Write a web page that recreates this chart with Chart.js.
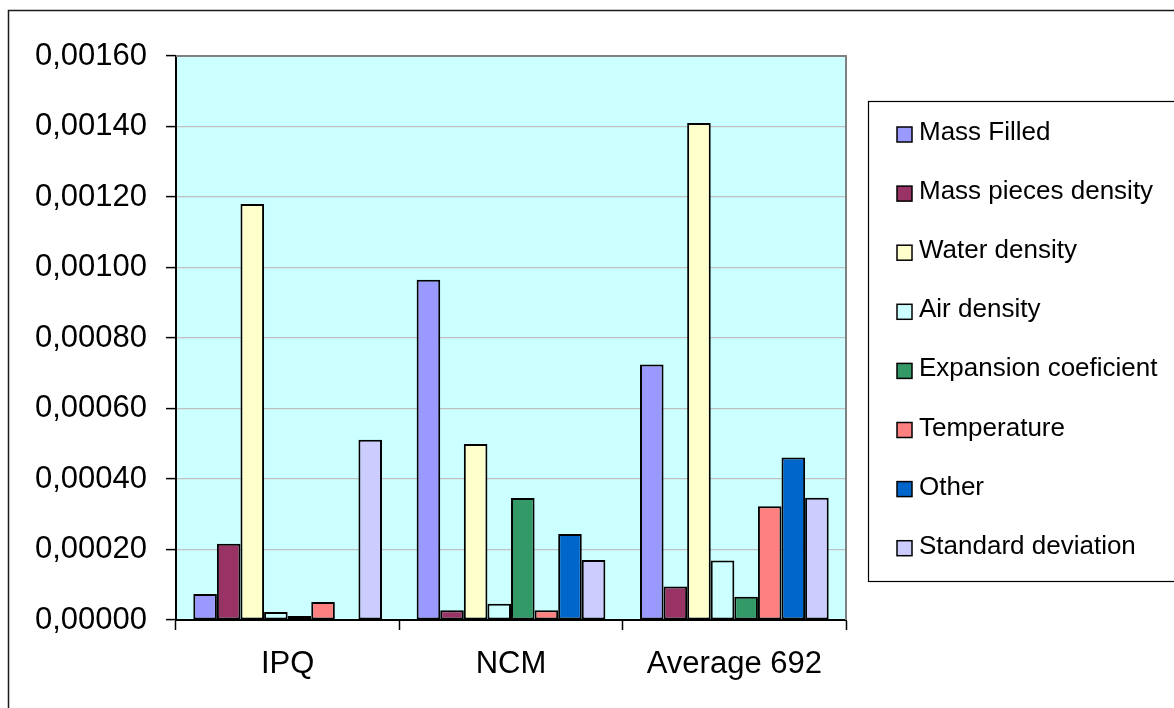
<!DOCTYPE html>
<html>
<head>
<meta charset="utf-8">
<script src="https://cdn.jsdelivr.net/npm/chart.js@4/dist/chart.umd.min.js"></script>
<style>
  html, body { margin: 0; padding: 0; background: #ffffff; }
  #wrap { width: 1174px; height: 708px; }
</style>
</head>
<body>
<div id="wrap"><canvas id="c" width="1174" height="708"></canvas></div>
<script>
// Groups along the x axis
const categories = ['IPQ', 'NCM', 'Average 692'];

// Uncertainty contributions per source, one value per group (IPQ, NCM, Average 692)
const massFilled        = [0.000074, 0.000965, 0.000725];
const massPiecesDensity = [0.000216, 0.000028, 0.000095];
const waterDensity      = [0.00118,  0.000499, 0.00141];
const airDensity        = [0.000023, 0.000046, 0.000169];
const expansionCoef     = [0.000011, 0.000346, 0.000066];
const temperature       = [0.000051, 0.000028, 0.000323];
const other             = [null,     0.000244, 0.000461];
const standardDeviation = [0.000511, 0.00017,  0.000347];

// Value axis
const yMin = 0, yMax = 0.0016, yStep = 0.0002;

const seriesNames = ['Mass Filled', 'Mass pieces density', 'Water density', 'Air density',
                     'Expansion coeficient', 'Temperature', 'Other', 'Standard deviation'];
const seriesValues = [massFilled, massPiecesDensity, waterDensity, airDensity,
                      expansionCoef, temperature, other, standardDeviation];
const seriesColors = ['#9999FF', '#993366', '#FFFFCC', '#CCFFFF',
                      '#339966', '#FF8080', '#0066CC', '#CCCCFF'];

const FONT = '"Liberation Sans", Arial, sans-serif';

const datasets = seriesNames.map((name, i) => ({
  label: name,
  data: seriesValues[i],
  backgroundColor: seriesColors[i],
  borderColor: '#000000',
  borderWidth: 2,
  borderSkipped: false,
  categoryPercentage: 0.845,
  barPercentage: 1.0
}));

// Plot background, frame, outer border and the boxed legend
const framePlugin = {
  id: 'frame',
  beforeDraw(chart) {
    const { ctx, chartArea: a } = chart;
    ctx.save();
    ctx.fillStyle = '#ffffff';
    ctx.fillRect(0, 0, chart.width, chart.height);
    ctx.fillStyle = '#CCFFFF';
    ctx.fillRect(a.left, a.top, a.right - a.left, a.bottom - a.top);
    ctx.restore();
  },
  afterDraw(chart) {
    const { ctx, chartArea: a } = chart;
    ctx.save();
    // top and right edges of the plot area
    ctx.strokeStyle = '#808080';
    ctx.lineWidth = 2;
    ctx.beginPath();
    ctx.moveTo(a.left, a.top);
    ctx.lineTo(a.right, a.top);
    ctx.lineTo(a.right, a.bottom);
    ctx.stroke();

    // outer chart border
    ctx.strokeStyle = '#1a1a1a';
    ctx.lineWidth = 1.5;
    ctx.strokeRect(8.5, 10.5, 1200, 800);

    // legend box
    ctx.strokeStyle = '#000000';
    ctx.lineWidth = 1.2;
    ctx.strokeRect(868.5, 101.5, 340, 480);

    // legend entries
    ctx.font = '26px ' + FONT;
    ctx.textBaseline = 'alphabetic';
    ctx.textAlign = 'left';
    chart.data.datasets.forEach((ds, i) => {
      const cy = 134.5 + i * 59.1;
      ctx.fillStyle = ds.backgroundColor;
      ctx.fillRect(897, cy - 7.5, 15, 15);
      ctx.strokeStyle = '#000000';
      ctx.lineWidth = 1.5;
      ctx.strokeRect(897, cy - 7.5, 15, 15);
      ctx.fillStyle = '#000000';
      ctx.fillText(ds.label, 919, cy + 5.5);
    });
    ctx.restore();
  }
};

new Chart(document.getElementById('c'), {
  type: 'bar',
  data: { labels: categories, datasets },
  plugins: [framePlugin],
  options: {
    responsive: false,
    animation: false,
    devicePixelRatio: 1,
    layout: { padding: { left: 0, top: 56, right: 328, bottom: 0 } },
    plugins: { legend: { display: false }, tooltip: { enabled: false } },
    scales: {
      x: {
        offset: true,
        grid: {
          offset: true,
          drawOnChartArea: false,
          drawTicks: true,
          tickLength: 10,
          tickColor: '#000000',
          tickWidth: 1.5
        },
        border: { display: true, color: '#000000', width: 2 },
        ticks: {
          color: '#000000',
          font: { family: FONT, size: 31 },
          padding: 16,
          maxRotation: 0
        },
        afterFit(scale) { scale.height = 88; }
      },
      y: {
        min: yMin,
        max: yMax,
        grid: {
          color: '#C0C0C0',
          lineWidth: 1.2,
          drawTicks: true,
          tickLength: 10,
          tickColor: '#000000',
          tickWidth: 1.5
        },
        border: { display: true, color: '#000000', width: 2 },
        ticks: {
          stepSize: yStep,
          color: '#000000',
          font: { family: FONT, size: 31 },
          padding: 19,
          callback: (v) => Number(v).toFixed(5).replace('.', ',')
        },
        afterFit(scale) { scale.width = 176; }
      }
    }
  }
});
</script>
</body>
</html>
